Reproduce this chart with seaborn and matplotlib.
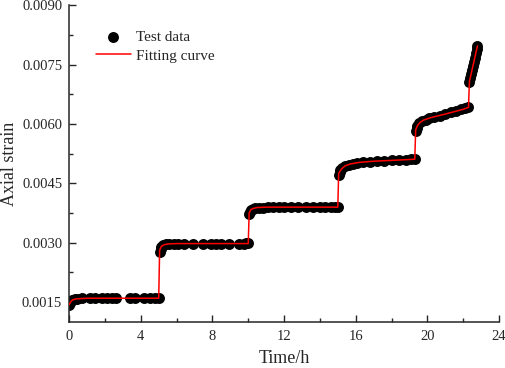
import numpy as np
import pandas as pd
import matplotlib
matplotlib.use("Agg")
import matplotlib.pyplot as plt
from matplotlib.ticker import MultipleLocator
import seaborn as sns

# test data, one list per loading stage
t1 = [0.0, 0.05, 0.1, 0.18, 0.3, 0.45, 0.7, 1.15, 1.45, 1.85, 2.1, 2.4, 2.6, 3.4, 3.7, 4.2, 4.5, 4.8, 5.0]
e1 = [0.00142, 0.00148, 0.00152, 0.00155, 0.00158, 0.00159, 0.00160, 0.00160, 0.00160, 0.00160,
      0.00160, 0.00160, 0.00160, 0.00160, 0.00160, 0.00160, 0.00160, 0.00161, 0.00161]
t2 = [5.05, 5.1, 5.15, 5.25, 5.4, 5.6, 5.85, 6.1, 6.4, 6.9, 7.5, 7.9, 8.2, 8.5, 8.9, 9.5, 9.75, 9.9, 10.0]
e2 = [0.00278, 0.00285, 0.00290, 0.00294, 0.00296, 0.00297, 0.00298, 0.00298, 0.00298, 0.00298,
      0.00298, 0.00298, 0.00298, 0.00298, 0.00298, 0.00298, 0.00298, 0.00299, 0.00299]
t3 = [10.05, 10.1, 10.15, 10.25, 10.4, 10.6, 10.85, 11.1, 11.4, 11.7, 12.0, 12.4, 12.8, 13.2, 13.6, 14.0, 14.3, 14.6, 14.85, 15.0]
e3 = [0.00372, 0.00378, 0.00383, 0.00386, 0.00388, 0.00389, 0.00389, 0.00390, 0.00390, 0.00390,
      0.00390, 0.00390, 0.00390, 0.00390, 0.00390, 0.00390, 0.00390, 0.00390, 0.00391, 0.00391]
t4 = [15.05, 15.1, 15.15, 15.25, 15.4, 15.6, 15.85, 16.1, 16.4, 16.8, 17.2, 17.6, 18.0, 18.4, 18.8, 19.1, 19.3]
e4 = [0.00472, 0.00478, 0.00484, 0.00489, 0.00494, 0.00497, 0.00500, 0.00502, 0.00504, 0.00505,
      0.00506, 0.00507, 0.00508, 0.00509, 0.00510, 0.00511, 0.00512]
t5 = [19.35, 19.4, 19.45, 19.55, 19.7, 19.9, 20.1, 20.4, 20.7, 21.0, 21.3, 21.6, 21.9, 22.1, 22.3]
e5 = [0.00582, 0.00590, 0.00596, 0.00602, 0.00607, 0.00611, 0.00614, 0.00618, 0.00621, 0.00625,
      0.00629, 0.00633, 0.00637, 0.00640, 0.00643]
t6 = [22.35, 22.4, 22.45, 22.5, 22.55, 22.6, 22.65, 22.7, 22.75, 22.8]
e6 = [0.00705, 0.00716, 0.00727, 0.00737, 0.00747, 0.00757, 0.00767, 0.00778, 0.00789, 0.00798]

# fitted curve
fit_t = [0.0, 0.1, 0.2, 0.35, 0.6, 1.0, 5.0,
         5.05, 5.15, 5.3, 5.5, 6.0, 10.0,
         10.05, 10.15, 10.3, 10.5, 11.0, 15.0,
         15.05, 15.2, 15.4, 15.7, 16.2, 17.0, 18.0, 19.3,
         19.35, 19.45, 19.6, 19.8, 20.2, 21.0, 22.0, 22.3,
         22.35, 22.5, 22.65, 22.8]
fit_e = [0.00144, 0.00152, 0.00156, 0.00158, 0.00159, 0.00160, 0.00160,
         0.00281, 0.00291, 0.00295, 0.00297, 0.00298, 0.00298,
         0.00375, 0.00384, 0.00387, 0.00389, 0.00390, 0.00390,
         0.00475, 0.00486, 0.00494, 0.00499, 0.00503, 0.00506, 0.00508, 0.00511,
         0.00585, 0.00596, 0.00604, 0.00610, 0.00616, 0.00625, 0.00637, 0.00642,
         0.00707, 0.00737, 0.00767, 0.00797]

test = pd.DataFrame({"time": t1 + t2 + t3 + t4 + t5 + t6,
                     "strain": e1 + e2 + e3 + e4 + e5 + e6})
fit = pd.DataFrame({"time": fit_t, "strain": fit_e})

sns.set_style("ticks")
plt.rcParams["font.family"] = ["Liberation Serif", "DejaVu Serif"]

fig = plt.figure(figsize=(5.05, 3.68), dpi=100)
ax = fig.add_axes([0.137, 0.125, 0.851, 0.861])

sns.scatterplot(data=test, x="time", y="strain", ax=ax, color="black",
                s=62, edgecolor="black", linewidth=0, label="Test data", zorder=2)
sns.lineplot(data=fit, x="time", y="strain", ax=ax, color="red", lw=1.1,
             sort=False, estimator=None, label="Fitting curve", zorder=3)

ax.set_xlim(0, 24)
ax.set_ylim(0.0010, 0.0090)
ax.xaxis.set_major_locator(MultipleLocator(4))
ax.xaxis.set_minor_locator(MultipleLocator(2))
ax.yaxis.set_major_locator(MultipleLocator(0.0015))
ax.yaxis.set_minor_locator(MultipleLocator(0.00075))
ax.yaxis.set_major_formatter(plt.FuncFormatter(lambda v, p: f"{v:.4f}"))

ax.tick_params(which="major", direction="in", length=5, width=1, labelsize=10.5)
ax.tick_params(axis="x", which="major", pad=6)
ax.tick_params(axis="y", which="major", pad=5)
ax.tick_params(which="minor", direction="in", length=3, width=1)
for s in ["top", "right"]:
    ax.spines[s].set_visible(False)
for s in ["left", "bottom"]:
    ax.spines[s].set_linewidth(1.1)

ax.set_xlabel("Time/h", fontsize=13, labelpad=5)
ax.set_ylabel("Axial strain", fontsize=13, labelpad=3)

ax.legend(loc="upper left", bbox_to_anchor=(0.03, 0.965), frameon=False,
          fontsize=11, handlelength=2.3, handletextpad=0.3, labelspacing=0.35)

fig.savefig("out.png", dpi=100)
